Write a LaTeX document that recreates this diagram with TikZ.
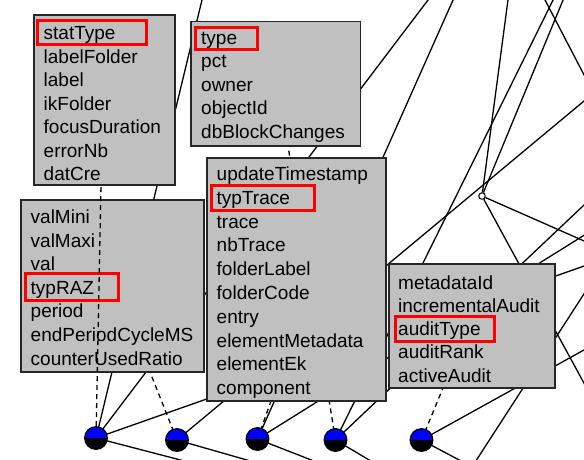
\documentclass[tikz,border=0pt]{standalone}
\usepackage{fontspec}
\setmainfont{Liberation Sans}
\usetikzlibrary{backgrounds}
\definecolor{boxgray}{HTML}{C0C0C0}
\begin{document}
\begin{tikzpicture}[x=1pt,y=-1pt,
  box/.style={rectangle, draw=black!85, line width=1.3pt, fill=boxgray, inner sep=0pt, outer sep=0pt, anchor=north west},
  item/.style={anchor=base west, inner sep=0pt, font=\fontsize{19}{23.5}\selectfont},
  hl/.style={draw=red, line width=3pt},
  edge/.style={line width=1.3pt, draw=black},
  lbl/.style={line width=1.3pt, draw=black, dash pattern=on 5pt off 4pt},
  conc/.style={circle, draw=black, line width=1.3pt, minimum size=22.6pt, inner sep=0pt,
    path picture={\fill[blue] (path picture bounding box.north west) rectangle (path picture bounding box.east);
                  \fill[black] (path picture bounding box.west) rectangle (path picture bounding box.south east);}},
  smallc/.style={circle, draw=black, fill=white, line width=1pt, minimum size=6.5pt, inner sep=0pt}]
\useasboundingbox (0,0) rectangle (584,459);

% concept nodes
\node[conc] (c1) at (96,438) {};
\node[conc] (c2) at (177,440) {};
\node[conc] (c3) at (257.5,439) {};
\node[conc] (c4) at (335.5,440) {};
\node[conc] (c5) at (421.5,440) {};
\node[smallc] (s) at (482,196) {};

% free ends of edges (outside the visible area)
\coordinate (t1) at (204.4,-10);
\coordinate (t2) at (435.6,-10);
\coordinate (t3) at (600,260.4);
\coordinate (t4) at (219,470);
\coordinate (t7) at (600,87.7);
\coordinate (t8) at (282,470);
\coordinate (t9) at (457.5,-10);
\coordinate (t11) at (600,225.3);
\coordinate (t12) at (337,470);
\coordinate (t14) at (558,-10);
\coordinate (t15) at (600,189.9);
\coordinate (t16) at (386,470);
\coordinate (t18) at (600,341.1);
\coordinate (t19) at (478,470);
\coordinate (t20a) at (470,470);
\coordinate (t20b) at (593,280);
\coordinate (t21) at (509.3,-10);
\coordinate (t22) at (567.2,-10);
\coordinate (t23) at (600,248);
\coordinate (t24) at (600,412.5);
\coordinate (t25a) at (539.8,-10);
\coordinate (t25b) at (600,105.6);

% attachment points of label boxes
\coordinate (aStat) at (101,185);
\coordinate (aVal) at (150,372);
\coordinate (aUpd) at (271,401);
\coordinate (aType) at (288,146);
\coordinate (aMeta) at (443,388);

% label boxes
\node[box, minimum width=141pt, minimum height=170pt] (bStat) at (34,15) {};
\node[box, minimum width=169.5pt, minimum height=124.5pt] (bType) at (191,21.5) {};
\node[box, minimum width=179pt, minimum height=243pt] (bUpd) at (207,158) {};
\node[box, minimum width=183pt, minimum height=172pt] (bVal) at (21,200) {};
\node[box, minimum width=166pt, minimum height=124pt] (bMeta) at (389,264) {};

\foreach \t [count=\i from 0] in {statType,labelFolder,label,ikFolder,focusDuration,errorNb,datCre}
  \node[item] (st\i) at (43.5,{39.5+23.5*\i}) {\t};
\foreach \t [count=\i from 0] in {type,pct,owner,objectId,dbBlockChanges}
  \node[item] (ty\i) at (201,{44+23.5*\i}) {\t};
\foreach \t [count=\i from 0] in {updateTimestamp,typTrace,trace,nbTrace,folderLabel,folderCode,entry,elementMetadata,elementEk,component}
  \node[item] (up\i) at (216.5,{180.5+23.8*\i}) {\t};
\foreach \t [count=\i from 0] in {valMini,valMaxi,val,typRAZ,period,endPeriodCycleMS,counterUsedRatio}
  \node[item] (va\i) at (30.5,{223.5+23.6*\i}) {\t};
\foreach \t [count=\i from 0] in {metadataId,incrementalAudit,auditType,auditRank,activeAudit}
  \node[item] (me\i) at (398,{289+23.3*\i}) {\t};

% highlights
\draw[hl] (37.5,20.8) rectangle (146.8,44.2);
\draw[hl] (195.8,27.5) rectangle (257.2,49.5);
\draw[hl] (211.5,185.8) rectangle (314.2,210.8);
\draw[hl] (25.5,273.8) rectangle (118.2,300.2);
\draw[hl] (395.8,316.8) rectangle (494.5,341.2);

% dashed label line drawn over the valMini box
\draw[lbl] (c1) -- (aStat);

\begin{scope}[on background layer]
  \fill[white] (0,0) rectangle (584,459);
  \draw[edge] (c1.center) -- (t1);
  \draw[edge] (c1.center) -- (t2);
  \draw[edge] (c1.center) -- (t3);
  \draw[edge] (c1.center) -- (t4);
  \draw[edge] (c2.center) -- (t7);
  \draw[edge] (c2.center) -- (t8);
  \draw[edge] (c3.center) -- (t9);
  \draw[edge] (c3.center) -- (t11);
  \draw[edge] (c3.center) -- (t12);
  \draw[edge] (c4.center) -- (t14);
  \draw[edge] (c4.center) -- (t15);
  \draw[edge] (c4.center) -- (t16);
  \draw[edge] (c5.center) -- (t18);
  \draw[edge] (c5.center) -- (t19);
  \draw[edge] (t20a) -- (t20b);
  \draw[edge] (s) -- (t21);
  \draw[edge] (s) -- (t22);
  \draw[edge] (s) -- (t23);
  \draw[edge] (s) -- (t24);
  \draw[edge] (t25a) -- (t25b);
  \draw[lbl] (c2.center) -- (aVal);
  \draw[lbl] (c3.center) -- (aUpd);
  \draw[lbl] (c4.center) -- (aType);
  \draw[lbl] (c5.center) -- (aMeta);
\end{scope}
\end{tikzpicture}
\end{document}
